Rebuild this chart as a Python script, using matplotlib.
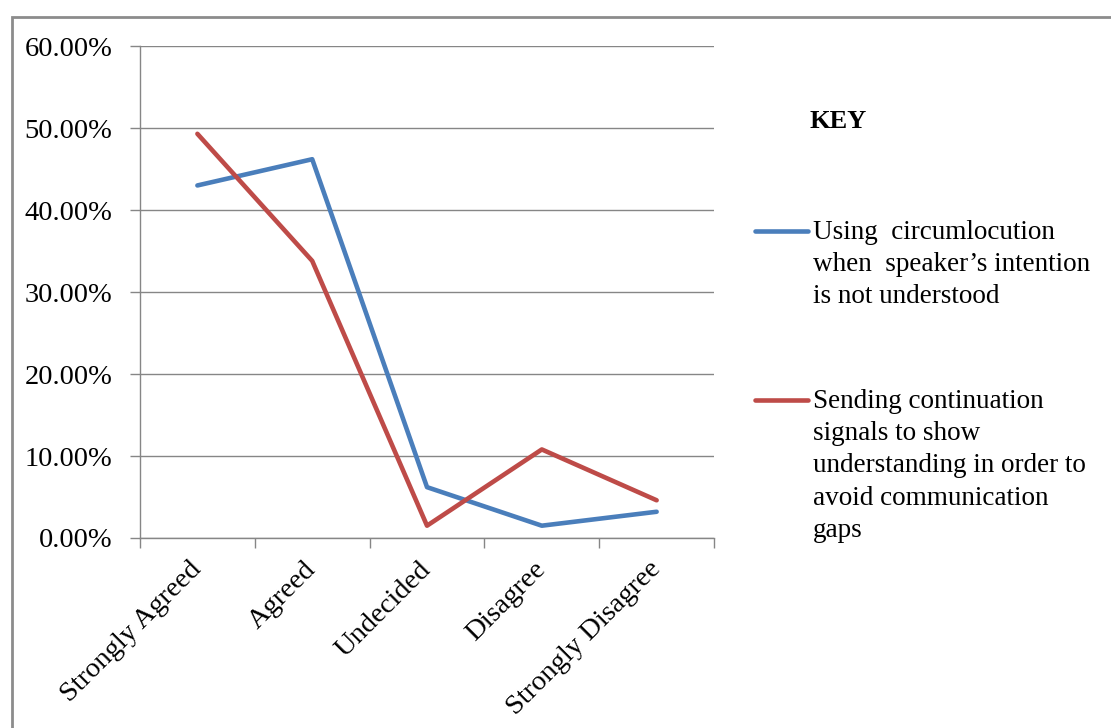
import matplotlib
matplotlib.use("Agg")
import matplotlib.pyplot as plt
from matplotlib.patches import Rectangle
from matplotlib.lines import Line2D

categories = ["Strongly Agreed", "Agreed", "Undecided", "Disagree", "Strongly Disagree"]
circumlocution = [43.0, 46.2, 6.2, 1.5, 3.2]
continuation = [49.3, 33.8, 1.5, 10.8, 4.6]
label_circ = "Using  circumlocution\nwhen  speaker\u2019s intention\nis not understood"
label_cont = "Sending continuation\nsignals to show\nunderstanding in order to\navoid communication\ngaps"
yticks = [0, 10, 20, 30, 40, 50, 60]

BLUE = "#4A7EBB"
RED = "#BE4B48"
GRID = "#868686"

plt.rcParams["font.family"] = ["Liberation Serif", "DejaVu Serif"]

fig = plt.figure(figsize=(11.11, 7.28), dpi=100)
ax = fig.add_axes([0.126, 0.261, 0.5167, 0.6757])

x = list(range(len(categories)))
ax.plot(x, circumlocution, color=BLUE, lw=3.3, solid_capstyle="round", solid_joinstyle="round")
ax.plot(x, continuation, color=RED, lw=3.3, solid_capstyle="round", solid_joinstyle="round")

ax.set_xlim(-0.5, len(categories) - 0.5)
ax.set_ylim(0, 60)
ax.set_yticks(yticks)
ax.set_yticklabels([f"{v:.2f}%" for v in yticks], fontsize=20.5)
ax.yaxis.grid(True, color=GRID, lw=1.0)
ax.set_axisbelow(True)

# category boundaries carry the x tick marks
ax.set_xticks([i - 0.5 for i in range(len(categories) + 1)])
ax.set_xticklabels([])
ax.set_xticks(x, minor=True)
ax.set_xticklabels(categories, minor=True, rotation=45, ha="right", va="center",
                   rotation_mode="anchor", fontsize=20.5)
ax.tick_params(axis="x", which="major", length=7, color=GRID, width=1)
ax.tick_params(axis="x", which="minor", length=0, pad=20)
ax.tick_params(axis="y", length=7, color=GRID, width=1, pad=13)

for side in ("top", "right"):
    ax.spines[side].set_visible(False)
for side in ("left", "bottom"):
    ax.spines[side].set_color(GRID)
    ax.spines[side].set_linewidth(1.0)

# key on the right
fig.text(809 / 1111, 1 - 122 / 728, "KEY", fontsize=19, fontweight="bold", va="center", ha="left")
for ly, color, text in ((231, BLUE, label_circ), (400, RED, label_cont)):
    fy = 1 - ly / 728
    fig.add_artist(Line2D([755 / 1111, 808 / 1111], [fy, fy], color=color, lw=3.3,
                          solid_capstyle="round"))
    fig.text(813 / 1111, 1 - (ly - 11) / 728, text, fontsize=19.5, va="top", ha="left",
             linespacing=1.38)

# outer frame
fig.add_artist(Rectangle((12 / 1111, -0.1), 1.2, 1 - 17 / 728 + 0.1, transform=fig.transFigure,
                         fill=False, edgecolor="#8c8c8c", lw=2.0))

fig.savefig("out.png", dpi=100)
